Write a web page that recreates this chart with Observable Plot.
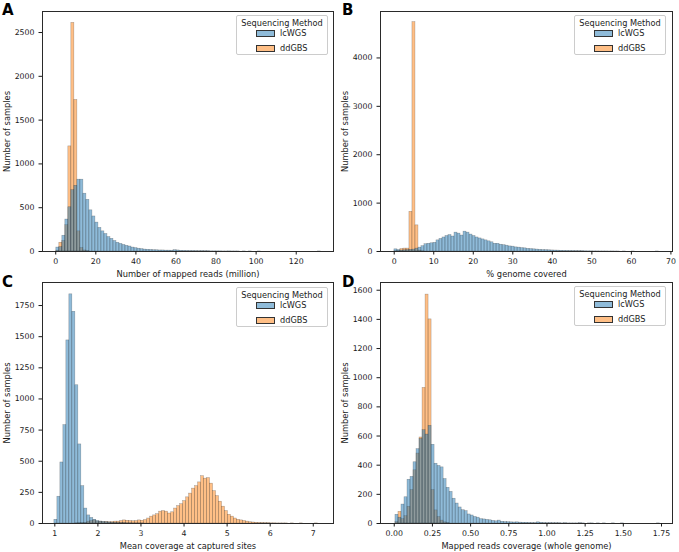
<!DOCTYPE html>
<html>
<head>
<meta charset="utf-8">
<script src="https://cdn.jsdelivr.net/npm/d3@7"></script>
<script src="https://cdn.jsdelivr.net/npm/@observablehq/plot@0.6"></script>
<style>
  body { margin: 0; background: #fff; font-family: "DejaVu Sans", sans-serif; }
  #fig { position: relative; width: 679px; height: 552px; overflow: hidden; background: #fff; }
  .panel { position: absolute; }
  .letter { position: absolute; font: bold 15px "DejaVu Sans", sans-serif; line-height: 1; color: #000; }
  .legend { position: absolute; width: 92px; height: 40px; border: 1px solid #cccccc; border-radius: 2px;
            background: rgba(255,255,255,0.85); font: 8.2px "DejaVu Sans", sans-serif; color: #222; box-sizing: border-box; }
  .legend .title { position: absolute; left: 0; right: 0; top: 2px; text-align: center; white-space: nowrap; }
  .legend .sw { position: absolute; left: 19px; width: 19px; height: 7px; border: 0.8px solid #333; box-sizing: border-box; }
  .legend .lab { position: absolute; left: 43px; white-space: nowrap; }
</style>
</head>
<body>
<div id="fig"></div>
<script>
// ---------------- data ----------------
const methods = ["lcWGS", "ddGBS"];
const methodColors = ["#1f77b4", "#ff7f0e"];

// Panel A: Number of mapped reads (million); bins start 0.3, width 1.5
const aStart = 0.3, aWidth = 1.5;
const aBlue = [45,50,180,365,505,700,750,820,820,660, 590,470,400,330,270,230,200,165,145,120,
  100,87,75,65,57,45,38,32,27,22, 20,18,15,14,12,12,10,10,9,15, 12,8,7,6,5,5,4,3,4,3,
  3,2,2,2,2,1,1,2,1,1, 1,0,1,0,1,0,0,1,0,0, 0,0,0,0,0,0,0,0,0,0, 0,0,0,0,0,0,0,1];
const aOrange = [10,100,120,300,1200,2610,1730,230,40,12,4];

// Panel B: % genome covered; bins start 0.05, width 0.76
const bStart = 0.05, bWidth = 0.76;
const bBlue = [45,30,20,25,30,35,40,60,80,110, 150,160,170,180,230,260,290,320,340,310,
  390,370,330,410,390,350,320,290,270,250, 230,210,190,160,160,140,130,120,105,100,
  85,80,70,65,55,50,45,40,35,30, 28,25,22,20,18,15,13,12,10,9,
  8,7,6,5,4,4,3,3,2,2, 2,1,2,1,1,0,1,0,0,1, 0,0,0,0,0,0,0,1];
const bOrange = [5,10,50,60,60,820,4740,540,20,5];

// Panel C: Mean coverage at captured sites; bins start 0.99, width 0.0695
const cStart = 0.99, cWidth = 0.0695;
const cBlue = [30,215,490,790,1470,1840,1700,1110,635,300, 120,65,45,30,20,15,12,10,8,6,
  5,4,3,3,2,2,1,1,1,1];
const cOrange = [0,0,0,0,0,0,0,2,3,4, 5,15,20,25,15,15,10,12,10,12,
  15,15,20,25,22,20,18,20,25,22, 28,40,55,65,75,95,100,95,80,90,
  120,140,155,180,210,240,280,300,330,380, 360,365,320,260,220,175,135,100,70,55,
  40,30,25,20,15,10,8,6,5,4, 3,3,2,2,1,1,1,1,0,1, 0,0,1,0,0,0,0,1];

// Panel D: Mapped reads coverage (whole genome); bins start 0.008, width 0.0197
const dStart = 0.008, dWidth = 0.0197;
const dBlue = [60,40,130,180,300,320,420,510,580,640, 610,670,540,410,395,385,305,245,217,170,
  137,110,91,85,62,55,45,40,30,28, 25,22,18,15,20,12,10,9,8,7,
  8,6,5,5,4,3,3,8,5,3, 2,3,2,2,2,1,2,1,1,1, 1,2,1,0,1,1,0,1,0,1,
  0,0,1,0,0,1,0,0,0,0, 0,0,0,0,0,0,0,1];
const dOrange = [10,80,30,50,115,230,365,480,590,930,1570,1400,230,90,45,20,8,4];

// ticks & labels
const aXTicks = [0,20,40,60,80,100,120], aYTicks = [0,500,1000,1500,2000,2500];
const bXTicks = [0,10,20,30,40,50,60,70], bYTicks = [0,1000,2000,3000,4000];
const cXTicks = [1,2,3,4,5,6,7], cYTicks = [0,250,500,750,1000,1250,1500,1750];
const dXTicks = [0,0.25,0.5,0.75,1,1.25,1.5,1.75], dYTicks = [0,200,400,600,800,1000,1200,1400,1600];
const xLabels = ["Number of mapped reads (million)", "% genome covered",
                 "Mean coverage at captured sites", "Mapped reads coverage (whole genome)"];
const yLabel = "Number of samples";
const legendTitle = "Sequencing Method";
const letters = ["A", "B", "C", "D"];

// ---------------- drawing ----------------
function rows(counts, start, w) {
  return counts.map((c, i) => ({x1: start + i * w, x2: start + (i + 1) * w, y: c})).filter(d => d.y > 0);
}

function panel(cfg) {
  const bar = (data, color) => Plot.rectY(data, {
    x1: "x1", x2: "x2", y: "y", y1: 0,
    fill: color, fillOpacity: 0.5, stroke: "#1a1a1a", strokeOpacity: 0.38, strokeWidth: 0.5,
    insetLeft: 0, insetRight: 0
  });
  return Plot.plot({
    width: cfg.width, height: cfg.height,
    marginLeft: cfg.ml, marginRight: cfg.mr, marginTop: cfg.mt, marginBottom: cfg.mb,
    style: {fontFamily: "DejaVu Sans, sans-serif", color: "#1a1a1a", background: "transparent", overflow: "visible"},
    x: {domain: cfg.xDomain},
    y: {domain: [0, cfg.yMax]},
    marks: [
      bar(rows(cfg.orange, cfg.start, cfg.w), methodColors[1]),
      bar(rows(cfg.blue, cfg.start, cfg.w), methodColors[0]),
      Plot.frame({stroke: "#2a2a2a", strokeWidth: 1}),
      Plot.axisX({ticks: cfg.xTicks, tickSize: 3.5, tickPadding: 3.5, tickFormat: cfg.xFmt, fontSize: 7.8, label: null}),
      Plot.axisY({ticks: cfg.yTicks, tickSize: 3.5, tickPadding: 4.5, tickFormat: d3.format("d"), fontSize: 7.8, label: null}),
      Plot.axisX({ticks: [], tickSize: 0, fontSize: 8.3, label: cfg.xLabel, labelAnchor: "center", labelArrow: "none", labelOffset: 25}),
      Plot.axisY({ticks: [], tickSize: 0, fontSize: 8.3, label: yLabel, labelAnchor: "center", labelArrow: "none", labelOffset: 38})
    ]
  });
}

const fig = document.getElementById("fig");
const specs = [
  {left: 0, top: 0, width: 340, height: 280, ml: 42, mr: 7, mt: 11, mb: 29,
   blue: aBlue, orange: aOrange, start: aStart, w: aWidth, xDomain: [-6.6, 138.6], yMax: 2740,
   xTicks: aXTicks, yTicks: aYTicks, xLabel: xLabels[0], xFmt: d3.format("d"),
   legend: {left: 236, top: 15}, letter: {left: 2, top: 3}},
  {left: 340, top: 0, width: 339, height: 280, ml: 40, mr: 7, mt: 11, mb: 29,
   blue: bBlue, orange: bOrange, start: bStart, w: bWidth, xDomain: [-3.47, 70.4], yMax: 4960,
   xTicks: bXTicks, yTicks: bYTicks, xLabel: xLabels[1], xFmt: d3.format("d"),
   legend: {left: 574, top: 15}, letter: {left: 342, top: 3}},
  {left: 0, top: 276, width: 340, height: 276, ml: 42, mr: 7, mt: 6, mb: 29,
   blue: cBlue, orange: cOrange, start: cStart, w: cWidth, xDomain: [0.714, 7.47], yMax: 1935,
   xTicks: cXTicks, yTicks: cYTicks, xLabel: xLabels[2], xFmt: d3.format("d"),
   legend: {left: 236, top: 287}, letter: {left: 2, top: 275}},
  {left: 340, top: 276, width: 339, height: 276, ml: 40, mr: 7, mt: 6, mb: 29,
   blue: dBlue, orange: dOrange, start: dStart, w: dWidth, xDomain: [-0.09, 1.822], yMax: 1653,
   xTicks: dXTicks, yTicks: dYTicks, xLabel: xLabels[3], xFmt: d3.format(".2f"),
   legend: {left: 574, top: 286}, letter: {left: 342, top: 275}}
];

specs.forEach((s, i) => {
  const wrap = document.createElement("div");
  wrap.className = "panel";
  wrap.style.left = s.left + "px";
  wrap.style.top = s.top + "px";
  wrap.appendChild(panel(s));
  fig.appendChild(wrap);

  const lg = document.createElement("div");
  lg.className = "legend";
  lg.style.left = s.legend.left + "px";
  lg.style.top = s.legend.top + "px";
  let html = `<div class="title">${legendTitle}</div>`;
  methods.forEach((m, j) => {
    const y = 14 + j * 15;
    const c = d3.color(methodColors[j]); c.opacity = 0.5;
    html += `<div class="sw" style="top:${y}px;background:${c.formatRgb()}"></div>`;
    html += `<div class="lab" style="top:${y - 2}px">${m}</div>`;
  });
  lg.innerHTML = html;
  fig.appendChild(lg);

  const L = document.createElement("div");
  L.className = "letter";
  L.style.left = s.letter.left + "px";
  L.style.top = s.letter.top + "px";
  L.textContent = letters[i];
  fig.appendChild(L);
});
</script>
</body>
</html>
